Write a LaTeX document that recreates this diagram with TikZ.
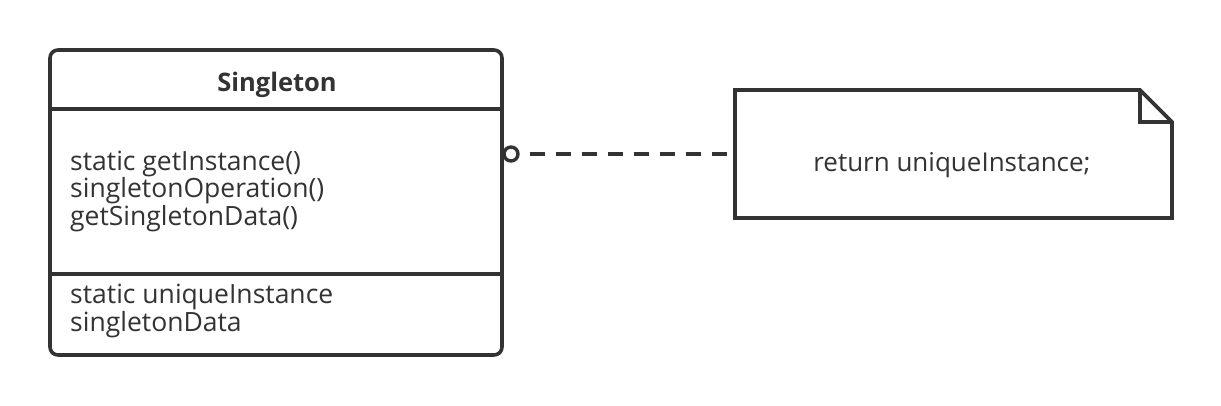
\documentclass[tikz,border=0pt]{standalone}
\usepackage{fontspec}
\setmainfont{Open Sans}
\definecolor{ink}{HTML}{333333}
\begin{document}
\begin{tikzpicture}[x=1pt,y=-1pt,
  line/.style={draw=ink,line width=3.6pt},
  txt/.style={text=ink,font=\fontsize{26.5}{26}\selectfont,inner sep=0pt},
  dashline/.style={draw=ink,line width=4pt,dash pattern=on 15.5pt off 10.5pt}]
\useasboundingbox (0,0) rectangle (1221,406);
\fill[white] (0,0) rectangle (1221,406);
% class box
\draw[line,rounded corners=8pt] (50,50) rectangle (502,355);
\draw[line] (50,109) -- (502,109);
\draw[line] (50,274) -- (502,274);
\node[txt,font=\fontsize{25.5}{26}\selectfont\bfseries] (title) at (277,85) {Singleton};
\node[txt,align=left,anchor=west] (ops) at (70,191) {static getInstance()\\singletonOperation()\\getSingletonData()};
\node[txt,align=left,anchor=west] (attrs) at (70,311) {static uniqueInstance\\singletonData};
\coordinate (cls) at (502,154);
% note
\draw[line,line join=miter] (735,90) -- (1140,90) -- (1172,122) -- (1172,218) -- (735,218) -- cycle;
\draw[line,line join=miter] (1140,90) -- (1140,122) -- (1172,122);
\node[txt,font=\fontsize{26}{26}\selectfont] (note) at (952,165) {return uniqueInstance;};
\coordinate (notew) at (733,154);
% connector
\node[circle,draw=ink,line width=3.4pt,fill=white,minimum size=14pt,inner sep=0pt] (circ) at (511,154) {};
\draw[dashline] (circ.east) ++(10,0) coordinate (dstart) (dstart) -- (notew);
\end{tikzpicture}
\end{document}
